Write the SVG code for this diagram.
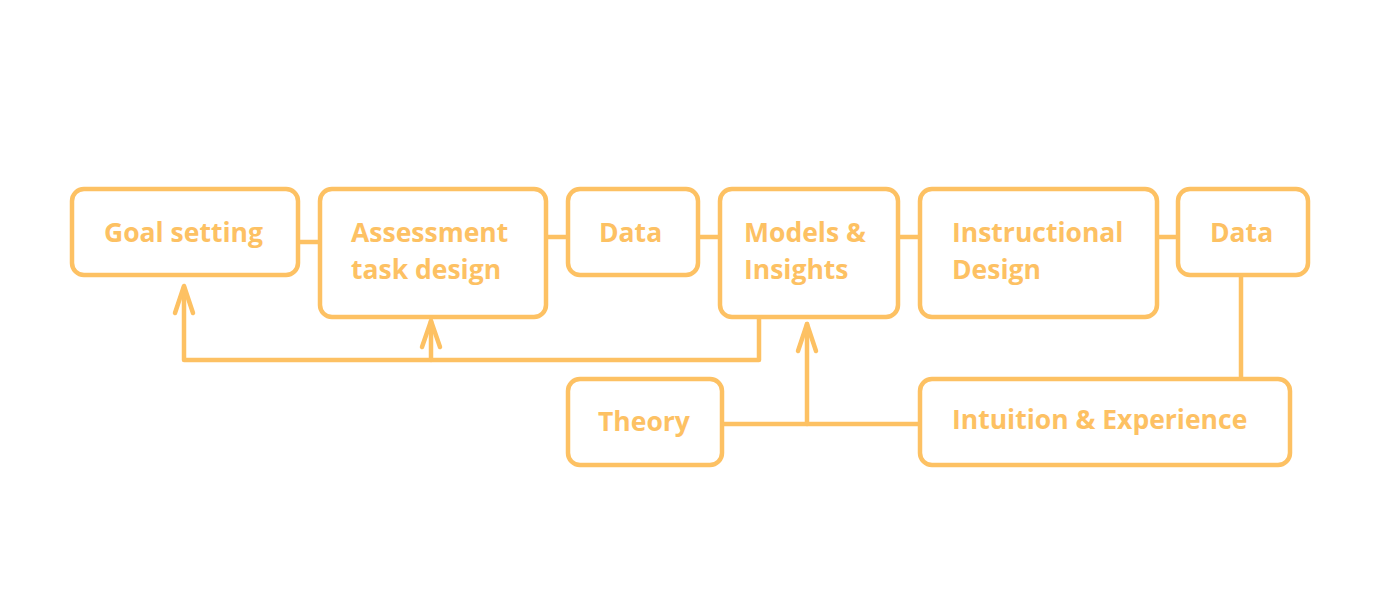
<svg xmlns="http://www.w3.org/2000/svg" width="1400" height="600" viewBox="0 0 1400 600">
<style>
.box{fill:#fff;stroke:#FDC163;stroke-width:4.5}
.ln{fill:none;stroke:#FDC163;stroke-width:4.5;stroke-linecap:round;stroke-linejoin:round}
text{font-family:"Open Sans","Noto Sans",sans-serif;font-weight:700;font-size:26.5px;fill:#FDC163}
</style>
<rect width="1400" height="600" fill="#fff"/>
<g id="connectors">
<path class="ln" d="M298,242 H320"/>
<path class="ln" d="M546,237 H568"/>
<path class="ln" d="M698,237 H720"/>
<path class="ln" d="M898,237 H920"/>
<path class="ln" d="M1157,237 H1178"/>
<path class="ln" d="M759,317 V360 H184 V287"/>
<path class="ln" d="M175,313 L184,286 L193,313"/>
<path class="ln" d="M431,360 V321"/>
<path class="ln" d="M422,347 L431,321 L440,347"/>
<path class="ln" d="M722,424 H920"/>
<path class="ln" d="M807,424 V324"/>
<path class="ln" d="M798,351 L807,324 L816,351"/>
<path class="ln" d="M1241,276 V379"/>
</g>
<g id="goal"><rect class="box" x="72" y="189" width="226" height="86" rx="12"/><text x="104" y="242">Goal setting</text></g>
<g id="assessment"><rect class="box" x="320" y="189" width="226" height="128" rx="12"/><text x="351" y="242">Assessment</text><text x="351" y="279">task design</text></g>
<g id="data1"><rect class="box" x="568" y="189" width="130" height="86" rx="12"/><text x="599" y="242">Data</text></g>
<g id="models"><rect class="box" x="720" y="189" width="178" height="128" rx="12"/><text x="744" y="242">Models &amp;</text><text x="744" y="279">Insights</text></g>
<g id="instructional"><rect class="box" x="920" y="189" width="237" height="128" rx="12"/><text x="952" y="242">Instructional</text><text x="952" y="279">Design</text></g>
<g id="data2"><rect class="box" x="1178" y="189" width="130" height="86" rx="12"/><text x="1210" y="242">Data</text></g>
<g id="theory"><rect class="box" x="568" y="379" width="154" height="86" rx="12"/><text x="598" y="431">Theory</text></g>
<g id="intuition"><rect class="box" x="920" y="379" width="370" height="86" rx="12"/><text x="952" y="429">Intuition &amp; Experience</text></g>
</svg>
